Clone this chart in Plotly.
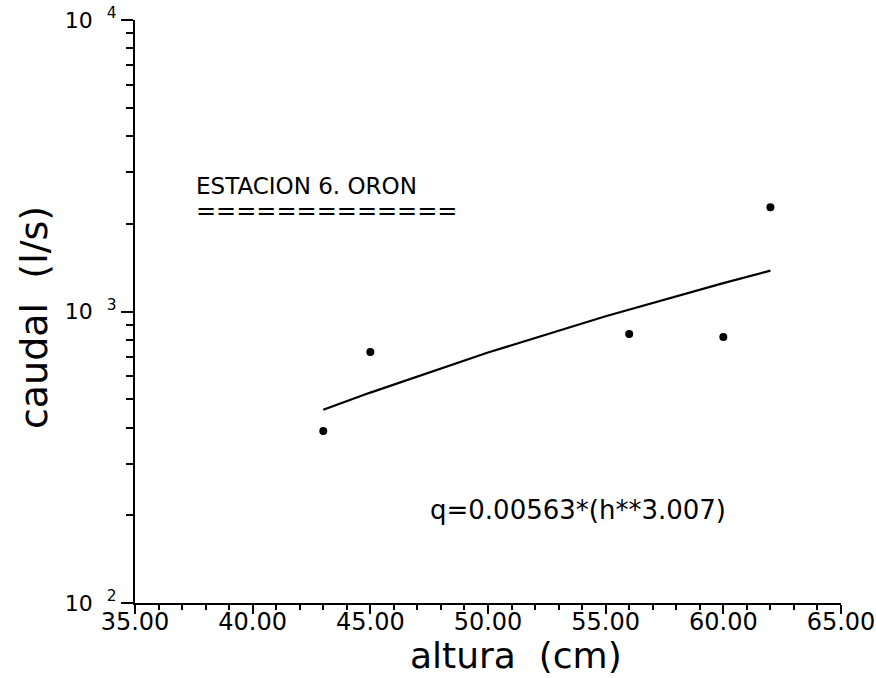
import plotly.graph_objects as go

# observed data (altura cm, caudal l/s)
obs_h = [43.0, 45.0, 56.0, 60.0, 62.0]
obs_q = [389, 726, 837, 817, 2280]

# fitted curve
fit_h = [43.0, 45.0, 50.0, 55.0, 60.0, 62.0]
fit_q = [460, 527, 723, 963, 1251, 1381]

x_ticks = [35, 40, 45, 50, 55, 60, 65]
x_ticklabels = ["35.00", "40.00", "45.00", "50.00", "55.00", "60.00", "65.00"]
x_minor = [v for v in range(35, 66)]
y_ticks = [100, 1000, 10000]
y_ticklabels = ["10  <sup>2</sup>", "10  <sup>3</sup>", "10  <sup>4</sup>"]
y_minor = [m * 10 ** e for e in (2, 3) for m in range(2, 10)]

title_text = "ESTACION 6. ORON"
underline_text = "=" * 13
equation_text = "q=0.00563*(h**3.007)"
x_title = "altura  (cm)"
y_title = "caudal  (l/s)"

FONT = "DejaVu Sans"

fig = go.Figure()
fig.add_trace(go.Scatter(x=fit_h, y=fit_q, mode="lines",
                         line=dict(color="black", width=2.2), showlegend=False))
fig.add_trace(go.Scatter(x=obs_h, y=obs_q, mode="markers",
                         marker=dict(color="black", size=8), showlegend=False))

fig.add_annotation(x=37.5, y=3.43, xref="x", yref="y", text=title_text,
                   showarrow=False, xanchor="left", yanchor="middle",
                   font=dict(family=FONT, size=23, color="black"))
fig.add_annotation(x=37.5, y=3.345, xref="x", yref="y", text=underline_text,
                   showarrow=False, xanchor="left", yanchor="middle",
                   font=dict(family=FONT, size=24, color="black"))
fig.add_annotation(x=47.45, y=2.32, xref="x", yref="y", text=equation_text,
                   showarrow=False, xanchor="left", yanchor="middle",
                   font=dict(family=FONT, size=26, color="black"))

# axis titles
fig.add_annotation(x=0.539, y=-0.09, xref="paper", yref="paper", text=x_title,
                   showarrow=False, xanchor="center", yanchor="middle",
                   font=dict(family=FONT, size=36, color="black"))
fig.add_annotation(x=-0.142, y=0.49, xref="paper", yref="paper", text=y_title,
                   showarrow=False, xanchor="center", yanchor="middle", textangle=-90,
                   font=dict(family=FONT, size=38, color="black"))

fig.update_layout(
    width=876, height=678,
    margin=dict(l=135, r=35, t=20, b=75),
    plot_bgcolor="white", paper_bgcolor="white",
    font=dict(family=FONT, color="black"),
    xaxis=dict(range=[35, 65], showgrid=False, zeroline=False, automargin=False,
               showline=True, linecolor="black", linewidth=2,
               tickvals=x_ticks, ticktext=x_ticklabels,
               ticks="outside", ticklen=9, tickwidth=2, tickcolor="black",
               ticklabelstandoff=-13,
               tickfont=dict(family=FONT, size=24, color="black"),
               minor=dict(tickvals=x_minor, ticks="outside", ticklen=5,
                          tickwidth=1.5, tickcolor="black")),
    yaxis=dict(type="log", range=[2, 4], showgrid=False, zeroline=False, automargin=False,
               showline=True, linecolor="black", linewidth=2,
               tickvals=y_ticks, ticktext=y_ticklabels,
               ticks="outside", ticklen=12, tickwidth=2, tickcolor="black",
               tickfont=dict(family=FONT, size=22, color="black"),
               minor=dict(tickvals=y_minor, ticks="outside", ticklen=7,
                          tickwidth=1.5, tickcolor="black")),
)

fig.write_html("out.html")
